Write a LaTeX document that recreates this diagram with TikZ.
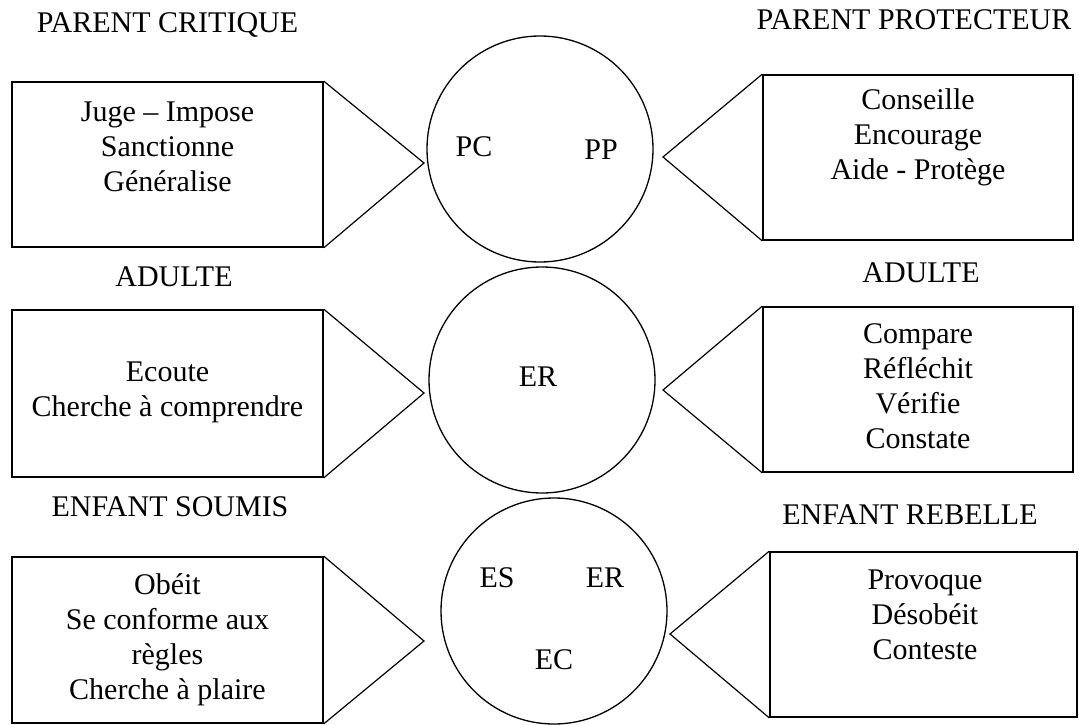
\documentclass[tikz,border=0pt]{standalone}
\usepackage{fontspec}
\setmainfont{Liberation Serif}
\begin{document}
\begin{tikzpicture}[x=1pt,y=-1pt,
  every node/.style={font=\fontsize{30}{35}\selectfont, inner sep=0pt},
  panel/.style={draw, rectangle, line width=1.6pt},
  ego/.style={draw, circle, line width=1.3pt, minimum size=226pt},
  pointer/.style={line width=1.2pt, line join=miter},
  lines/.style={align=center},
  title/.style={}]
\useasboundingbox[fill=white] (0,0) rectangle (1079,725);

% ego-state circles
\node[ego] (c1) at (540,149) {};
\node[ego] (c2) at (542,380) {};
\node[ego] (c3) at (554,611) {};
\node (pc) at (474,147) {PC};
\node (pp) at (601,150) {PP};
\node (a)  at (538,377) {ER};
\node (es) at (497,578) {ES};
\node (er) at (605,578) {ER};
\node (ec) at (554,660) {EC};

% behaviour panels
\node[panel, minimum width=311pt, minimum height=165pt] (pcbox) at (167.5,164.5) {};
\node[panel, minimum width=310pt, minimum height=165pt] (ppbox) at (918,157.5) {};
\node[panel, minimum width=311pt, minimum height=167pt] (albox) at (167.5,393.5) {};
\node[panel, minimum width=310pt, minimum height=165pt] (arbox) at (918,389.5) {};
\node[panel, minimum width=311pt, minimum height=166pt] (esbox) at (167.5,640) {};
\node[panel, minimum width=307pt, minimum height=165pt] (erbox) at (923.5,634.5) {};

% pointer tips
\coordinate (tpc) at (424,163);
\coordinate (tpp) at (663,157);
\coordinate (tal) at (424,393);
\coordinate (tar) at (663,390);
\coordinate (tes) at (424,641);
\coordinate (ter) at (670,634);

\draw[pointer] (pcbox.north east) -- (tpc) -- (pcbox.south east);
\draw[pointer] (ppbox.north west) -- (tpp) -- (ppbox.south west);
\draw[pointer] (albox.north east) -- (tal) -- (albox.south east);
\draw[pointer] (arbox.north west) -- (tar) -- (arbox.south west);
\draw[pointer] (esbox.north east) -- (tes) -- (esbox.south east);
\draw[pointer] (erbox.north west) -- (ter) -- (erbox.south west);

% panel texts
\node[lines] (pctxt) at (167.5,147) {Juge – Impose\\Sanctionne\\Généralise};
\node[lines] (pptxt) at (918,137) {Conseille\\Encourage\\Aide - Protège};
\node[lines] (altxt) at (167.5,392) {Ecoute\\Cherche à comprendre};
\node[lines] (artxt) at (918,386) {Compare\\Réfléchit\\Vérifie\\Constate};
\node[lines] (estxt) at (167.5,640) {Obéit\\Se conforme aux\\règles\\Cherche à plaire};
\node[lines] (ertxt) at (925,615) {Provoque\\Désobéit\\Conteste};

% titles
\node[title] (t1) at (167.5,25) {PARENT CRITIQUE};
\node[title] (t2) at (914,20) {PARENT PROTECTEUR};
\node[title] (t3) at (174,277) {ADULTE};
\node[title] (t4) at (921,273) {ADULTE};
\node[title] (t5) at (170,507) {ENFANT SOUMIS};
\node[title] (t6) at (910,515) {ENFANT REBELLE};
\end{tikzpicture}
\end{document}
